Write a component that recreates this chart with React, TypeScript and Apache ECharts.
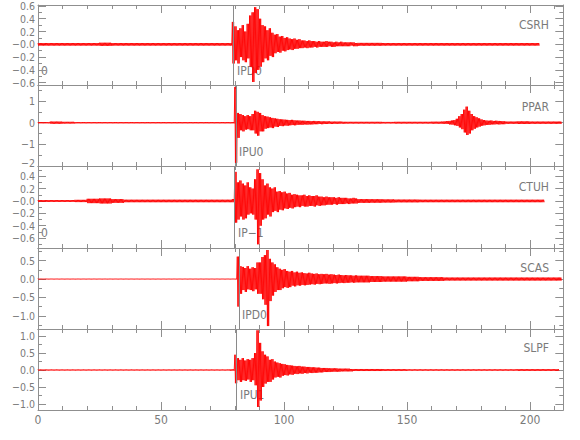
import React, { useEffect, useRef } from "react";
import * as echarts from "echarts";

// ---------- data ----------
const stations = ["CSRH", "PPAR", "CTUH", "SCAS", "SLPF"];
const pickNames = ["IPD0", "IPU0", "IP\u22121", "IPD0", "IPU1"];
const pickTimes = [79.4, 80.4, 79.8, 81.6, 80.5];
const traceEnds = [204, 213, 206, 213, 212];

const xMajor = [0, 50, 100, 150, 200];
const xMinor = [10, 20, 30, 40, 60, 70, 80, 90, 110, 120, 130, 140, 160, 170, 180, 190, 210];

const yRanges = [
  [-0.637, 0.615],
  [-2.0, 1.74],
  [-0.76, 0.565],
  [-1.36, 0.845],
  [-1.18, 1.21],
];
const yMajor = [
  [-0.6, -0.4, -0.2, 0, 0.2, 0.4, 0.6],
  [-2, -1, 0, 1],
  [-0.6, -0.4, -0.2, 0, 0.2, 0.4],
  [-1, -0.5, 0, 0.5],
  [-1, -0.5, 0, 0.5, 1],
];
const yLabels = [
  ["\u22120.6", "\u22120.4", "\u22120.2", "\u22120.0", "0.2", "0.4", "0.6"],
  ["\u22122", "\u22121", "0", "1"],
  ["\u22120.6", "\u22120.4", "\u22120.2", "\u22120.0", "0.2", "0.4"],
  ["\u22121.0", "\u22120.5", "0.0", "0.5"],
  ["\u22121.0", "\u22120.5", "0.0", "0.5", "1.0"],
];
const yMinor = [
  [-0.5, -0.3, -0.1, 0.1, 0.3, 0.5],
  [-1.5, -0.5, 0.5, 1.5],
  [-0.7, -0.5, -0.3, -0.1, 0.1, 0.3, 0.5],
  [-1.25, -0.75, -0.25, 0.25, 0.75],
  [-0.75, -0.25, 0.25, 0.75],
];

// background amplitude per 5-second block
const csrhNoise = [0.02, 0.02, 0.02, 0.02, 0.02, 0.024, 0.02, 0.02, 0.02, 0.02, 0.02, 0.02, 0.02, 0.02, 0.02, 0.02,
  0.02, 0.02, 0.02, 0.02, 0.02, 0.02, 0.02, 0.02, 0.02, 0.02, 0.022, 0.022, 0.02, 0.02, 0.02, 0.02, 0.02, 0.02,
  0.02, 0.02, 0.02, 0.02, 0.02, 0.02, 0.02];
const pparNoise = [0.03, 0.05, 0.04, 0.03, 0.03, 0.03, 0.03, 0.03, 0.03, 0.03, 0.03, 0.03, 0.03, 0.03, 0.03, 0.03,
  0.03, 0.03, 0.03, 0.03, 0.03, 0.03, 0.03, 0.03, 0.03, 0.03, 0.04, 0.04, 0.035, 0.04, 0.04, 0.04, 0.045, 0.05,
  0.05, 0.05, 0.05, 0.05, 0.05, 0.06, 0.05, 0.05, 0.05];
const ctuhNoise = [0.015, 0.015, 0.015, 0.018, 0.035, 0.04, 0.03, 0.02, 0.02, 0.02, 0.02, 0.02, 0.02, 0.02, 0.02, 0.02,
  0.02, 0.02, 0.02, 0.02, 0.02, 0.02, 0.02, 0.02, 0.02, 0.02, 0.03, 0.028, 0.025, 0.022, 0.022, 0.02, 0.02, 0.02,
  0.02, 0.02, 0.02, 0.02, 0.02, 0.02, 0.02, 0.02];
const scasNoise = [0.01, 0.01, 0.01, 0.01, 0.01, 0.01, 0.01, 0.01, 0.01, 0.01, 0.01, 0.01, 0.01, 0.01, 0.01, 0.01,
  0.01, 0.01, 0.01, 0.01, 0.01, 0.01, 0.01, 0.01, 0.01, 0.01, 0.09, 0.08, 0.07, 0.07, 0.06, 0.05, 0.05, 0.04,
  0.04, 0.04, 0.04, 0.04, 0.04, 0.04, 0.04, 0.04, 0.04];
const slpfNoise = [0.015, 0.015, 0.015, 0.015, 0.015, 0.015, 0.015, 0.015, 0.015, 0.015, 0.015, 0.015, 0.015, 0.015,
  0.015, 0.015, 0.015, 0.015, 0.015, 0.015, 0.015, 0.015, 0.015, 0.015, 0.015, 0.015, 0.03, 0.03, 0.025, 0.025,
  0.02, 0.02, 0.02, 0.02, 0.02, 0.02, 0.02, 0.02, 0.02, 0.025, 0.025, 0.025, 0.025];

// per-second peak (up) and trough (down, magnitude) from 78 s
const eventStart = 78;
const csrhUp = [0.02, 0.35, 0.28, 0.22, 0.25, 0.3, 0.2, 0.32, 0.45, 0.5, 0.58, 0.55, 0.4, 0.3, 0.28, 0.22, 0.25,
  0.18, 0.15, 0.16, 0.12, 0.13, 0.1, 0.11, 0.09, 0.08, 0.09, 0.07, 0.08, 0.06, 0.06, 0.05, 0.06, 0.05, 0.05, 0.04,
  0.05, 0.04, 0.04, 0.05, 0.04, 0.04, 0.03, 0.04, 0.03, 0.04, 0.03, 0.03, 0.03, 0.03, 0.03, 0.02];
const csrhDown = [0.02, 0.3, 0.25, 0.3, 0.2, 0.25, 0.28, 0.22, 0.35, 0.59, 0.45, 0.4, 0.35, 0.28, 0.22, 0.25, 0.18,
  0.2, 0.14, 0.12, 0.13, 0.1, 0.11, 0.09, 0.08, 0.09, 0.07, 0.07, 0.06, 0.06, 0.05, 0.06, 0.05, 0.05, 0.04, 0.05,
  0.04, 0.04, 0.04, 0.04, 0.03, 0.04, 0.04, 0.03, 0.03, 0.03, 0.03, 0.03, 0.03, 0.02, 0.03, 0.03];
const pparUp = [0.03, 0.03, 1.65, 0.45, 0.4, 0.35, 0.3, 0.35, 0.3, 0.4, 0.55, 0.5, 0.45, 0.35, 0.3, 0.28, 0.25, 0.22,
  0.2, 0.18, 0.16, 0.15, 0.14, 0.13, 0.12, 0.13, 0.11, 0.1, 0.1, 0.09, 0.09, 0.08, 0.08, 0.07, 0.08, 0.07, 0.07,
  0.06, 0.06, 0.06, 0.06, 0.05, 0.05, 0.05, 0.05, 0.05, 0.04, 0.04, 0.04, 0.04, 0.04, 0.04];
const pparDown = [0.03, 0.03, 1.85, 0.7, 0.35, 0.4, 0.32, 0.3, 0.35, 0.35, 0.5, 0.6, 0.4, 0.4, 0.28, 0.25, 0.22, 0.25,
  0.18, 0.2, 0.15, 0.16, 0.13, 0.14, 0.12, 0.11, 0.12, 0.1, 0.09, 0.1, 0.08, 0.09, 0.08, 0.08, 0.07, 0.07, 0.06,
  0.07, 0.06, 0.06, 0.05, 0.06, 0.05, 0.05, 0.05, 0.04, 0.05, 0.04, 0.04, 0.04, 0.04, 0.04];
const pparLateStart = 164;
const pparLateUp = [0.05, 0.06, 0.07, 0.08, 0.1, 0.12, 0.18, 0.3, 0.4, 0.6, 0.74, 0.55, 0.4, 0.3, 0.25, 0.2, 0.15,
  0.12, 0.1, 0.09, 0.1, 0.08, 0.09, 0.08, 0.07, 0.07];
const pparLateDown = [0.05, 0.05, 0.06, 0.08, 0.09, 0.12, 0.15, 0.22, 0.3, 0.45, 0.57, 0.5, 0.35, 0.28, 0.22, 0.18,
  0.14, 0.12, 0.1, 0.1, 0.08, 0.08, 0.07, 0.08, 0.07, 0.07];
const ctuhUp = [0.02, 0.03, 0.47, 0.3, 0.33, 0.28, 0.25, 0.3, 0.22, 0.2, 0.35, 0.51, 0.45, 0.35, 0.25, 0.28, 0.22,
  0.2, 0.22, 0.15, 0.16, 0.14, 0.15, 0.12, 0.13, 0.1, 0.11, 0.1, 0.09, 0.09, 0.1, 0.08, 0.09, 0.08, 0.08, 0.09,
  0.07, 0.07, 0.06, 0.07, 0.06, 0.06, 0.06, 0.05, 0.06, 0.05, 0.05, 0.05, 0.04, 0.04, 0.05, 0.04];
const ctuhDown = [0.02, 0.02, 0.35, 0.3, 0.25, 0.3, 0.28, 0.22, 0.2, 0.22, 0.3, 0.7, 0.4, 0.3, 0.28, 0.22, 0.25, 0.18,
  0.16, 0.18, 0.14, 0.15, 0.12, 0.13, 0.11, 0.12, 0.1, 0.09, 0.1, 0.08, 0.09, 0.09, 0.08, 0.08, 0.09, 0.07, 0.08,
  0.07, 0.07, 0.06, 0.06, 0.06, 0.05, 0.06, 0.05, 0.05, 0.05, 0.04, 0.05, 0.04, 0.04, 0.04];
const scasUp = [0.01, 0.01, 0.01, 0.61, 0.35, 0.33, 0.3, 0.35, 0.28, 0.32, 0.3, 0.45, 0.45, 0.6, 0.65, 0.79, 0.55,
  0.45, 0.4, 0.32, 0.28, 0.25, 0.27, 0.22, 0.2, 0.22, 0.18, 0.2, 0.17, 0.18, 0.16, 0.15, 0.17, 0.15, 0.14, 0.15,
  0.13, 0.14, 0.13, 0.14, 0.12, 0.13, 0.12, 0.11, 0.12, 0.11, 0.1, 0.11, 0.1, 0.1, 0.09, 0.1];
const scasDown = [0.01, 0.01, 0.01, 0.75, 0.4, 0.3, 0.35, 0.28, 0.3, 0.33, 0.28, 0.4, 0.4, 0.55, 0.7, 1.28, 0.6,
  0.45, 0.35, 0.3, 0.3, 0.25, 0.22, 0.24, 0.22, 0.18, 0.2, 0.17, 0.18, 0.16, 0.17, 0.16, 0.15, 0.14, 0.15, 0.13,
  0.14, 0.13, 0.12, 0.12, 0.13, 0.12, 0.11, 0.12, 0.11, 0.1, 0.11, 0.1, 0.1, 0.09, 0.1, 0.09];
const slpfUp = [0.02, 0.02, 0.45, 0.35, 0.3, 0.35, 0.28, 0.32, 0.3, 0.35, 0.5, 1.17, 0.8, 0.55, 0.45, 0.4, 0.3, 0.32,
  0.25, 0.22, 0.2, 0.18, 0.17, 0.15, 0.14, 0.13, 0.12, 0.11, 0.12, 0.1, 0.1, 0.09, 0.09, 0.08, 0.08, 0.07, 0.07,
  0.06, 0.06, 0.06, 0.05, 0.05, 0.05, 0.05, 0.04, 0.04, 0.04, 0.04, 0.04, 0.03, 0.03, 0.03];
const slpfDown = [0.02, 0.02, 0.39, 0.3, 0.35, 0.3, 0.32, 0.28, 0.35, 0.3, 0.45, 1.09, 0.9, 0.5, 0.4, 0.35, 0.35,
  0.28, 0.22, 0.2, 0.22, 0.17, 0.15, 0.16, 0.13, 0.14, 0.11, 0.12, 0.1, 0.11, 0.09, 0.1, 0.08, 0.09, 0.08, 0.08,
  0.07, 0.07, 0.06, 0.06, 0.06, 0.05, 0.05, 0.05, 0.05, 0.04, 0.04, 0.04, 0.04, 0.04, 0.03, 0.03];

// ---------- layout ----------
const GRID_LEFT = 38;
const GRID_WIDTH = 525.3;
const gridTops = [5, 85, 166, 248, 329];
const gridHeights = [80, 81, 82, 81, 81];
// the bottom label of panel 2 ("−2") sits at the panel seam; it is drawn as a separate text, nudged up
const seamLabel = { panel: 1, value: -2, x: 35, y: 163 };
const AXIS_COLOR = "#8f8f8f";
const TEXT_COLOR = "#7a7a7a";
const FONT = "'Liberation Sans Narrow', 'DejaVu Sans Condensed', 'Roboto Condensed', 'DejaVu Sans', sans-serif";

type Win = { start: number; up: number[]; down: number[] };

// each second is drawn as a dense up/down swing between its read peak and trough
function buildTrace(noise: number[], wins: Win[], end: number): [number, number][] {
  const pts: [number, number][] = [];
  for (let t = 0; t < end; t++) {
    const w = wins.find((v) => t >= v.start && t < v.start + v.up.length);
    let hi: number;
    let lo: number;
    if (w) {
      const j = t - w.start;
      hi = w.up[j];
      lo = w.down[j];
    } else {
      hi = lo = noise[Math.min(noise.length - 1, Math.floor(t / 5))];
    }
    pts.push([t, hi], [t + 0.25, -lo], [t + 0.5, hi], [t + 0.75, -lo]);
  }
  return pts;
}

const traces = [
  buildTrace(csrhNoise, [{ start: eventStart, up: csrhUp, down: csrhDown }], traceEnds[0]),
  buildTrace(
    pparNoise,
    [
      { start: eventStart, up: pparUp, down: pparDown },
      { start: pparLateStart, up: pparLateUp, down: pparLateDown },
    ],
    traceEnds[1]
  ),
  buildTrace(ctuhNoise, [{ start: eventStart, up: ctuhUp, down: ctuhDown }], traceEnds[2]),
  buildTrace(scasNoise, [{ start: eventStart, up: scasUp, down: scasDown }], traceEnds[3]),
  buildTrace(slpfNoise, [{ start: eventStart, up: slpfUp, down: slpfDown }], traceEnds[4]),
];

const pickLabelPos = [
  [237, 71],
  [239, 152],
  [238, 233],
  [242, 315],
  [240, 395],
];
const stationLabelY = [25, 107, 187, 268, 348];

function buildOption() {
  const grid: any[] = [];
  const xAxis: any[] = [];
  const yAxis: any[] = [];
  const series: any[] = [];
  const graphic: any[] = [];
  for (let i = 0; i < 5; i++) {
    grid.push({
      left: GRID_LEFT,
      top: gridTops[i],
      width: GRID_WIDTH,
      height: gridHeights[i],
      outerBoundsMode: "none",
      containLabel: false,
    });
    const baseX = {
      type: "value",
      gridIndex: i,
      min: 0,
      max: 213.5,
      splitLine: { show: false },
      axisLine: { show: true, onZero: false, lineStyle: { color: AXIS_COLOR, width: 1 } },
    };
    xAxis.push({
      ...baseX,
      position: "bottom",
      axisTick: { show: true, inside: true, length: 8, customValues: xMajor, lineStyle: { color: AXIS_COLOR } },
      axisLabel: {
        show: i === 4,
        customValues: xMajor,
        color: TEXT_COLOR,
        fontSize: 12,
        fontFamily: FONT,
        margin: 4,
        showMinLabel: true,
        showMaxLabel: true,
        hideOverlap: false,
      },
    });
    xAxis.push({
      ...baseX,
      position: "bottom",
      axisLine: { show: false, onZero: false },
      axisTick: { show: true, inside: true, length: 4, customValues: xMinor, lineStyle: { color: AXIS_COLOR } },
      axisLabel: { show: false },
    });
    xAxis.push({
      ...baseX,
      position: "top",
      axisTick: { show: true, inside: true, length: 8, customValues: xMajor, lineStyle: { color: AXIS_COLOR } },
      axisLabel: { show: false },
    });
    xAxis.push({
      ...baseX,
      position: "top",
      axisLine: { show: false, onZero: false },
      axisTick: { show: true, inside: true, length: 4, customValues: xMinor, lineStyle: { color: AXIS_COLOR } },
      axisLabel: { show: false },
    });

    const majors = yMajor[i];
    const labels = yLabels[i];
    const labelValues =
      i === seamLabel.panel ? majors.filter((m) => Math.abs(m - seamLabel.value) > 1e-6) : majors;
    const baseY = {
      type: "value",
      gridIndex: i,
      min: yRanges[i][0],
      max: yRanges[i][1],
      splitLine: { show: false },
      axisLine: { show: true, onZero: false, lineStyle: { color: AXIS_COLOR, width: 1 } },
    };
    yAxis.push({
      ...baseY,
      position: "left",
      axisTick: { show: true, inside: true, length: 8, customValues: majors, lineStyle: { color: AXIS_COLOR } },
      axisLabel: {
        show: true,
        customValues: labelValues,
        color: TEXT_COLOR,
        fontSize: 10.5,
        lineHeight: 9,
        fontFamily: FONT,
        margin: 3,
        showMinLabel: true,
        showMaxLabel: true,
        hideOverlap: false,
        formatter: (v: number) => {
          const k = majors.findIndex((m) => Math.abs(m - v) < 1e-6);
          return k >= 0 ? labels[k] : "";
        },
      },
    });
    yAxis.push({
      ...baseY,
      position: "left",
      axisLine: { show: false, onZero: false },
      axisTick: { show: true, inside: true, length: 4, customValues: yMinor[i], lineStyle: { color: AXIS_COLOR } },
      axisLabel: { show: false },
    });
    yAxis.push({
      ...baseY,
      position: "right",
      axisTick: { show: true, inside: true, length: 8, customValues: majors, lineStyle: { color: AXIS_COLOR } },
      axisLabel: { show: false },
    });
    yAxis.push({
      ...baseY,
      position: "right",
      axisLine: { show: false, onZero: false },
      axisTick: { show: true, inside: true, length: 4, customValues: yMinor[i], lineStyle: { color: AXIS_COLOR } },
      axisLabel: { show: false },
    });

    series.push({
      type: "line",
      name: stations[i],
      xAxisIndex: i * 4,
      yAxisIndex: i * 4,
      data: traces[i],
      symbol: "none",
      showSymbol: false,
      silent: true,
      clip: true,
      lineStyle: { color: "#ff0000", width: 0.9 },
      markLine: {
        silent: true,
        symbol: ["none", "none"],
        label: { show: false },
        lineStyle: { color: "#8a8a8a", width: 1, type: "solid" },
        data: [{ xAxis: pickTimes[i] }],
      },
    });

    graphic.push({
      type: "text",
      x: 549,
      y: stationLabelY[i],
      style: {
        text: stations[i],
        fill: TEXT_COLOR,
        font: `12px ${FONT}`,
        textAlign: "right",
        textVerticalAlign: "middle",
      },
    });
    graphic.push({
      type: "text",
      x: pickLabelPos[i][0],
      y: pickLabelPos[i][1],
      style: {
        text: pickNames[i],
        fill: TEXT_COLOR,
        font: `12px ${FONT}`,
        textAlign: "left",
        textVerticalAlign: "middle",
      },
    });
  }
  const seamIdx = yMajor[seamLabel.panel].findIndex((m) => Math.abs(m - seamLabel.value) < 1e-6);
  graphic.push({
    type: "text",
    x: seamLabel.x,
    y: seamLabel.y,
    style: {
      text: yLabels[seamLabel.panel][seamIdx],
      fill: TEXT_COLOR,
      font: `10.5px ${FONT}`,
      textAlign: "right",
      textVerticalAlign: "middle",
    },
  });
  graphic.push({
    type: "text",
    x: 41,
    y: 71,
    style: { text: "0", fill: TEXT_COLOR, font: `12px ${FONT}`, textAlign: "left", textVerticalAlign: "middle" },
  });
  graphic.push({
    type: "text",
    x: 41,
    y: 233,
    style: { text: "0", fill: TEXT_COLOR, font: `12px ${FONT}`, textAlign: "left", textVerticalAlign: "middle" },
  });

  return {
    animation: false,
    backgroundColor: "#ffffff",
    grid,
    xAxis,
    yAxis,
    series,
    graphic,
  };
}

export default function App() {
  const ref = useRef<HTMLDivElement>(null);
  useEffect(() => {
    if (!ref.current) return;
    const chart = echarts.init(ref.current, undefined, { renderer: "svg" });
    chart.setOption(buildOption() as any);
    return () => chart.dispose();
  }, []);
  return (
    <div
      ref={ref}
      style={{ position: "absolute", left: 0, top: 0, width: 580, height: 440, background: "#fff" }}
    />
  );
}
